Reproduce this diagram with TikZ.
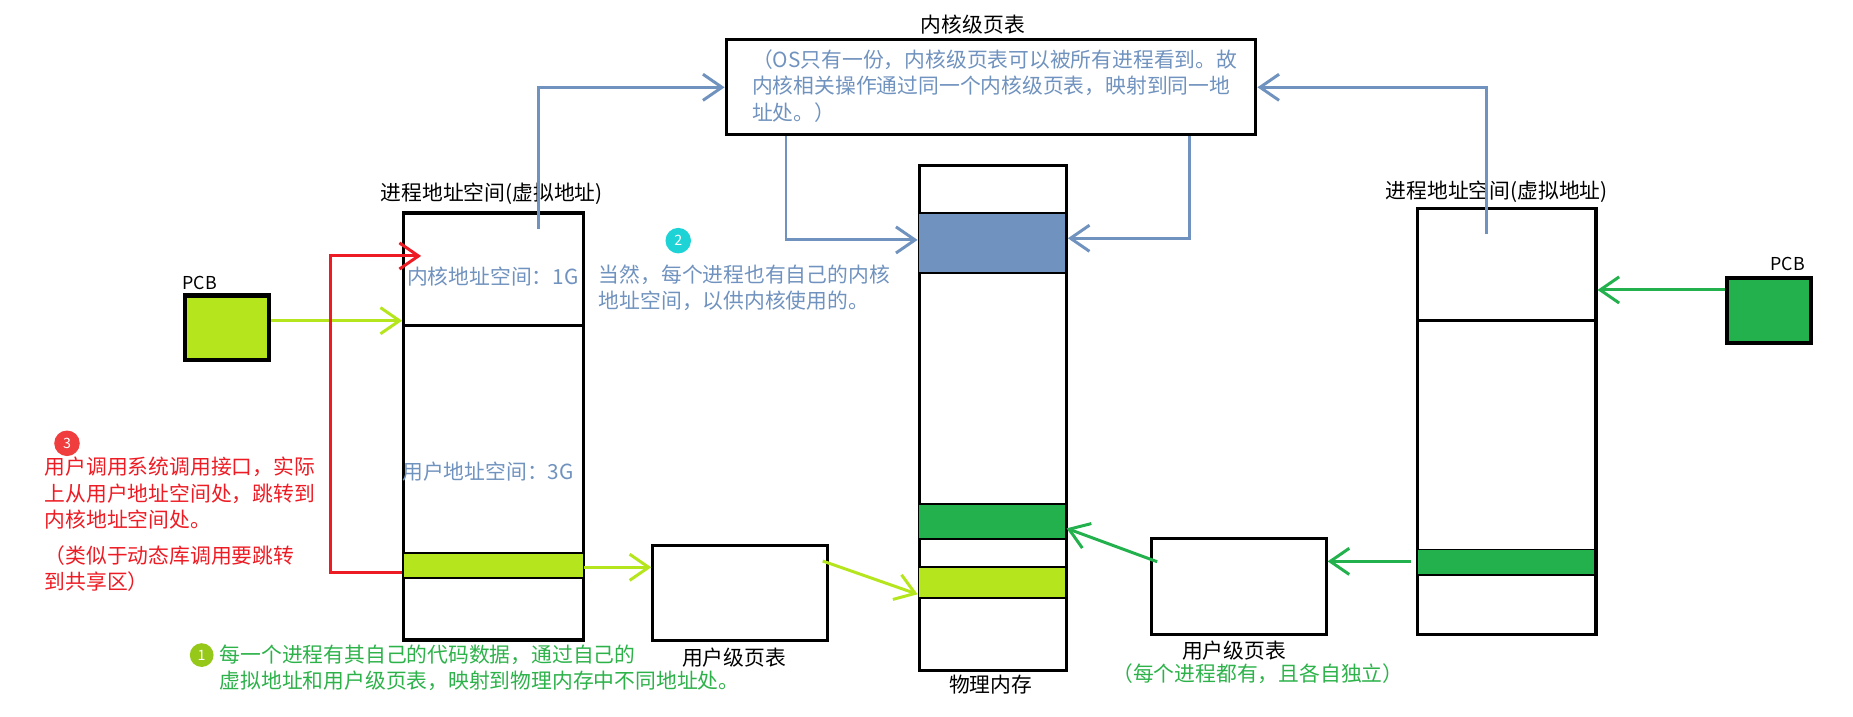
\documentclass[tikz,border=0pt]{standalone}
\usepackage{fontspec}
\newfontfamily\cjk{Noto Sans CJK SC}
\usetikzlibrary{arrows.meta}
\definecolor{bgray}{HTML}{7092BE}
\definecolor{limeg}{HTML}{B5E61D}
\definecolor{pgreen}{HTML}{22B14C}
\definecolor{pred}{HTML}{ED1C24}
\definecolor{cyanc}{HTML}{1DD3D6}
\definecolor{redc}{HTML}{F03D3D}
\definecolor{limec}{HTML}{96C81A}
\definecolor{tgreen}{HTML}{2DB24A}
\begin{document}
\begin{tikzpicture}[x=1pt,y=-1pt,
  box/.style={draw=black,line width=2.6pt,inner sep=0,anchor=north west},
  pcbbox/.style={draw=black,line width=3.5pt,inner sep=0,anchor=north west},
  band/.style={draw=black,line width=1.5pt,inner sep=0,anchor=north west},
  conn/.style={line width=2.5pt,-{Straight Barb[length=16pt,width=22pt,line width=2.5pt]}},
  txt/.style={inner sep=0,font=\fontsize{17.5}{22.2}\selectfont\cjk,align=left},
  ttl/.style={inner sep=0,font=\fontsize{17.5}{22}\selectfont\cjk},
  num/.style={circle,inner sep=0,minimum size=21.5pt,text=white,font=\fontsize{12}{12}\selectfont\cjk}
]
\useasboundingbox (0,0) rectangle (1560,603.6);

% kernel page table
\node[box,minimum width=446pt,minimum height=80pt] (kpt) at (610,32) {};
\node[ttl,anchor=center] (kpttitle) at (819,21) {内核级页表};
\node[txt,text=bgray,anchor=north west] (kpttext) at (633,41.5) {（OS只有一份，内核级页表可以被所有进程看到。故\\内核相关操作通过同一个内核级页表，映射到同一地\\址处。）};

% left process address space
\node[box,minimum width=151.5pt,minimum height=359.5pt] (lpas) at (338.5,178) {};
\node[box,minimum width=151.5pt,minimum height=94.8pt] (lker) at (338.5,178) {};
\node[band,fill=limeg,minimum width=152pt,minimum height=21.5pt] (lband) at (338.5,464.5) {};
\node[ttl,anchor=center] (lpastitle) at (414,163) {进程地址空间(虚拟地址)};
\node[ttl,text=bgray,anchor=west] (lkertext) at (342.5,233) {内核地址空间：1G};
\node[ttl,text=bgray,anchor=west] (lusertext) at (338.5,397) {用户地址空间：3G};

% left PCB
\node[pcbbox,fill=limeg,minimum width=71pt,minimum height=54pt] (lpcb) at (153.8,247) {};
\node[ttl,anchor=center,font=\fontsize{15}{15}\selectfont\cjk] (lpcblabel) at (168,238) {PCB};

% left user page table
\node[box,minimum width=147.3pt,minimum height=80.5pt] (lupt) at (548.3,457.7) {};
\node[ttl,anchor=center] (lupttitle) at (618,553.7) {用户级页表};

% physical memory
\node[box,minimum width=123.9pt,minimum height=425.5pt] (phys) at (772.5,138) {};
\node[band,fill=bgray,minimum width=123.9pt,minimum height=50.5pt] (pblue) at (772.5,178.8) {};
\node[band,fill=pgreen,minimum width=123.9pt,minimum height=29.4pt] (pgreenb) at (772.5,423.8) {};
\node[band,fill=limeg,minimum width=123.9pt,minimum height=26.1pt] (plime) at (772.5,476.8) {};
\node[ttl,anchor=center] (phystitle) at (834,576) {物理内存};

% right user page table
\node[box,minimum width=147.3pt,minimum height=80.8pt] (rupt) at (967.8,451.8) {};
\node[ttl,anchor=center] (rupttitle) at (1039,548) {用户级页表};
\node[ttl,anchor=center,text=tgreen] (ruptnote) at (1059,567) {（每个进程都有，且各自独立）};

% right process address space
\node[box,minimum width=150.3pt,minimum height=358.6pt] (rpas) at (1192,174.6) {};
\node[box,minimum width=150.3pt,minimum height=94.2pt] (rker) at (1192,174.6) {};
\node[band,fill=pgreen,minimum width=150.3pt,minimum height=21.6pt] (rband) at (1192,461.9) {};
\node[ttl,anchor=center] (rpastitle) at (1260,161.4) {进程地址空间(虚拟地址)};

% right PCB
\node[pcbbox,fill=pgreen,minimum width=70.6pt,minimum height=54.4pt] (rpcb) at (1452,232.4) {};
\node[ttl,anchor=center,font=\fontsize{15}{15}\selectfont\cjk] (rpcblabel) at (1505,222) {PCB};

% annotations
\node[num,fill=cyanc] (n2) at (571,202.6) {2};
\node[txt,text=bgray,anchor=north west] (note2) at (504,222.6) {当然，每个进程也有自己的内核\\地址空间，以供内核使用的。};

\node[num,fill=redc] (n3) at (56.4,373.2) {3};
\node[txt,text=pred,anchor=north west] (note3a) at (37.5,384.6) {用户调用系统调用接口，实际\\上从用户地址空间处，跳转到\\内核地址空间处。};
\node[txt,text=pred,anchor=north west] (note3b) at (37.5,459) {（类似于动态库调用要跳转\\到共享区）};

\node[num,fill=limec,minimum size=20pt] (n1) at (169.8,551.5) {1};
\node[txt,text=tgreen,anchor=north west,font=\fontsize{17.5}{21.6}\selectfont\cjk] (note1) at (184.8,542.8) {每一个进程有其自己的代码数据，通过自己的\\虚拟地址和用户级页表，映射到物理内存中不同地址处。};

% connectors
\coordinate (lkup) at (453.4,193);
\coordinate (rkup) at (1251.4,197.3);
\draw[conn,draw=bgray] (lkup) |- (kpt.west |- 0,73.5);
\draw[conn,draw=bgray] (rkup) |- (kpt.east |- 0,73.5);
\draw[conn,draw=bgray] (kpt.south -| 661.7,0) |- (phys.west |- 0,202);
\draw[conn,draw=bgray] (kpt.south -| 1001.8,0) |- (phys.east |- 0,200.6);

\draw[conn,draw=limeg] (lpcb.east |- 0,270) -- (lker.west |- 0,270);
\draw[conn,draw=pred] (lband.west |- 0,481.8) -- (278,481.8) -- (278,215.5) -- (354.5,215.5);
\draw[conn,draw=limeg] (lband.east |- 0,477.6) -- (lupt.west |- 0,477.6);
\draw[conn,draw=limeg] (692.6,472.3) -- (plime.west |- 0,500.3);

\draw[conn,draw=pgreen] (rpcb.west |- 0,244.1) -- (rker.east |- 0,244.1);
\draw[conn,draw=pgreen] (1188,472.6) -- (rupt.east |- 0,472.6);
\draw[conn,draw=pgreen] (974.2,472.9) -- (pgreenb.east |- 0,444.8);
\end{tikzpicture}
\end{document}
